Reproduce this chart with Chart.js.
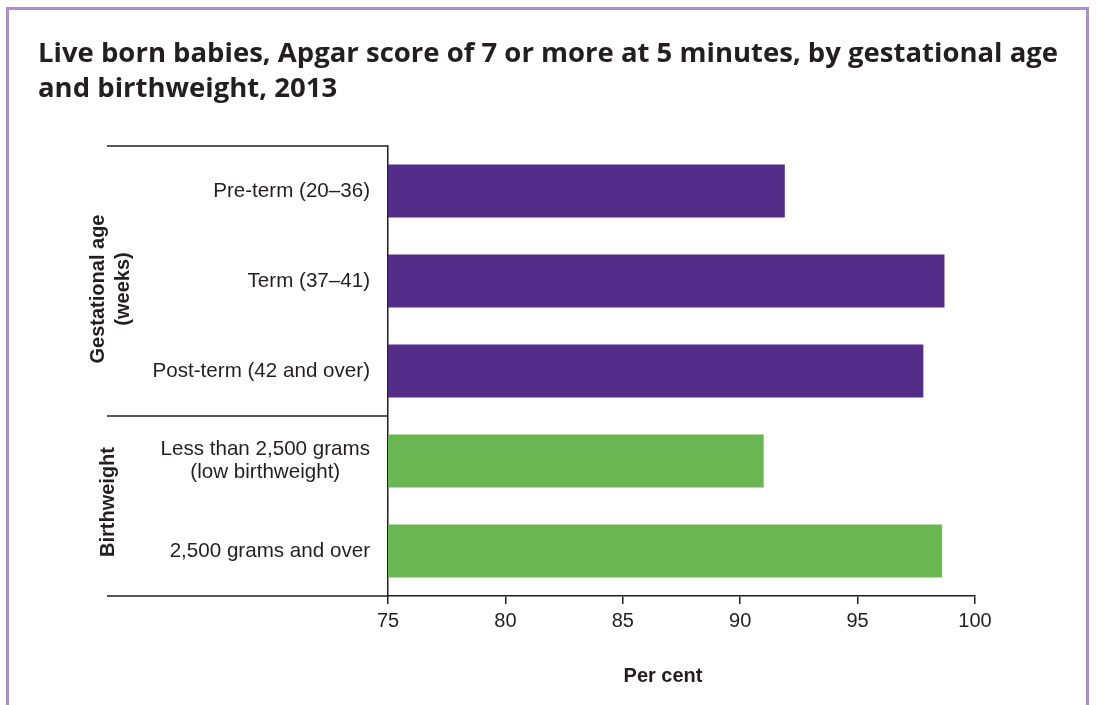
<!DOCTYPE html>
<html>
<head>
<meta charset="utf-8">
<script src="https://cdn.jsdelivr.net/npm/chart.js@4"></script>
<style>
  body { margin: 0; background: #fff; }
  #wrap { position: relative; width: 1097px; height: 705px; overflow: hidden; }
  #frame { position: absolute; left: 6px; top: 7px; width: 1083px; height: 760px;
           border: 3px solid #a891cc; box-sizing: border-box; }
  #title { position: absolute; left: 38px; top: 34px; margin: 0;
           font: bold 27.5px/35px "Open Sans", sans-serif; color: #231f20; white-space: nowrap; }
  #chart { position: absolute; left: 0; top: 0; }
</style>
</head>
<body>
<div id="wrap">
  <div id="frame"></div>
  <canvas id="chart" width="1097" height="705"></canvas>
  <div id="title">Live born babies, Apgar score of 7 or more at 5 minutes, by gestational age<br>and birthweight, 2013</div>
</div>
<script>
// データ
const categories = [
  'Pre-term (20–36)',
  'Term (37–41)',
  'Post-term (42 and over)',
  ['Less than 2,500 grams', '(low birthweight)'],
  '2,500 grams and over'
];
const values = [91.9, 98.7, 97.8, 91.0, 98.6];
const barColors = ['#532d87', '#532d87', '#532d87', '#6ab652', '#6ab652'];

// グループ（縦書きラベル）
const groupNames = [['Gestational age', '(weeks)'], ['Birthweight']];
const groupFirst = [0, 3];
const groupLast = [2, 4];

const xMin = 75;
const xMax = 100;
const xStep = 5;
const xTitle = 'Per cent';

const INK = '#231f20';
const FONT = '"Liberation Sans", Arial, sans-serif';

// ── 左側の区切り線・ラベル ─────────────────────────────
const decor = {
  id: 'decor',
  afterDraw(chart) {
    const { ctx, chartArea: a, scales: { y } } = chart;
    ctx.save();
    ctx.strokeStyle = INK;
    ctx.lineWidth = 1.5;

    const lineLeft = 107;
    // group edges
    const edges = [y.getPixelForValue(-0.5)];
    groupLast.forEach(i => edges.push(y.getPixelForValue(i + 0.5)));
    edges.forEach(py => {
      ctx.beginPath();
      ctx.moveTo(lineLeft, py);
      ctx.lineTo(a.left, py);
      ctx.stroke();
    });

    // category labels (centred lines, right edge next to axis)
    ctx.fillStyle = INK;
    ctx.font = '20.6px ' + FONT;
    ctx.textAlign = 'center';
    ctx.textBaseline = 'middle';
    categories.forEach((c, i) => {
      const lines = [].concat(c);
      const w = Math.max(...lines.map(l => ctx.measureText(l).width));
      const cx = a.left - 18 - w / 2;
      const cy = y.getPixelForValue(i);
      lines.forEach((l, k) => ctx.fillText(l, cx, cy + (k - (lines.length - 1) / 2) * 23.5));
    });

    // group names, rotated
    ctx.font = 'bold 20px ' + FONT;
    groupNames.forEach((g, gi) => {
      const top = y.getPixelForValue(groupFirst[gi] - 0.5);
      const bottom = y.getPixelForValue(groupLast[gi] + 0.5);
      ctx.save();
      ctx.translate(gi === 0 ? 111 : 108, (top + bottom) / 2 + (gi === 0 ? 8 : -4));
      ctx.rotate(-Math.PI / 2);
      g.forEach((l, k) => ctx.fillText(l, 0, (k - (g.length - 1) / 2) * 25));
      ctx.restore();
    });

    // x axis title
    ctx.font = 'bold 20px ' + FONT;
    ctx.fillText(xTitle, 663, 676);
    ctx.restore();
  }
};

const ctx = document.getElementById('chart').getContext('2d');
new Chart(ctx, {
  type: 'bar',
  data: {
    labels: categories,
    datasets: [{
      data: values,
      backgroundColor: barColors,
      borderWidth: 0,
      barPercentage: 0.59,
      categoryPercentage: 1
    }]
  },
  options: {
    indexAxis: 'y',
    responsive: false,
    animation: false,
    layout: { padding: { top: 146, right: 122, left: 0, bottom: 0 } },
    plugins: { legend: { display: false }, tooltip: { enabled: false } },
    scales: {
      y: {
        ticks: { display: false },
        grid: { display: false },
        border: { display: true, color: INK, width: 1.5 },
        afterFit: s => { s.width = 388; }
      },
      x: {
        min: xMin,
        max: xMax,
        ticks: {
          stepSize: xStep,
          padding: 5,
          color: INK,
          font: { family: FONT, size: 20 }
        },
        grid: { drawOnChartArea: false, drawTicks: true, tickLength: 8, color: INK, lineWidth: 1.5 },
        border: { display: true, color: INK, width: 1.5 },
        afterFit: s => { s.height = 109; }
      }
    }
  },
  plugins: [decor]
});
</script>
</body>
</html>
